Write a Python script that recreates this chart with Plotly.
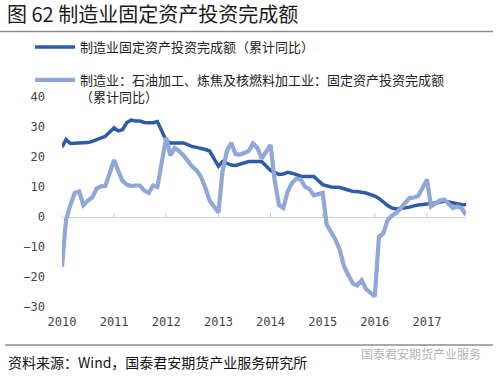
import plotly.graph_objects as go

# ---- data (cumulative YoY, %), months Feb..Dec each year, 2017 ends in Nov ----
years = [2010, 2011, 2012, 2013, 2014, 2015, 2016, 2017]
months = [2, 3, 4, 5, 6, 7, 8, 9, 10, 11, 12]

manu_2010 = [23.3, 25.8, 24.5, 24.6, 24.7, 24.7, 24.8, 25.2, 25.8, 26.3, 26.9]
manu_2011 = [29.7, 28.7, 29.1, 31.5, 32.3, 32.0, 32.0, 31.5, 31.4, 31.4, 31.8]
manu_2012 = [25.5, 24.7, 24.6, 24.7, 24.7, 24.0, 23.5, 23.2, 23.0, 22.5, 22.0]
manu_2013 = [16.9, 18.5, 17.8, 17.3, 17.2, 17.6, 18.2, 18.5, 18.5, 18.6, 18.5]
manu_2014 = [15.5, 15.0, 14.2, 14.3, 14.9, 14.6, 14.0, 13.6, 13.5, 13.5, 13.5]
manu_2015 = [10.8, 10.4, 10.0, 9.9, 9.8, 9.4, 8.9, 8.5, 8.5, 8.3, 8.0]
manu_2016 = [7.0, 6.2, 5.0, 3.8, 3.0, 2.7, 2.8, 3.0, 3.3, 3.7, 4.0]
manu_2017 = [4.3, 4.6, 4.6, 4.8, 5.3, 5.0, 4.6, 4.4, 4.2, 4.1]

oil_2010 = [-16.6, -1.0, 4.0, 8.0, 8.5, 4.0, 5.5, 6.5, 9.5, 10.2, 10.3]
oil_2011 = [19.0, 15.5, 12.0, 10.8, 10.3, 10.5, 10.5, 8.8, 8.0, 10.5, 10.0]
oil_2012 = [26.5, 20.5, 23.0, 22.0, 20.5, 18.5, 16.8, 15.5, 13.5, 9.8, 5.5]
oil_2013 = [1.5, 15.0, 22.0, 24.7, 21.0, 20.8, 21.3, 22.0, 24.5, 23.0, 19.5]
oil_2014 = [24.0, 12.5, 4.0, 3.0, 8.5, 11.3, 12.8, 12.5, 10.0, 9.3, 7.2]
oil_2015 = [8.0, -2.5, -5.0, -7.5, -11.0, -16.5, -19.5, -22.2, -22.8, -21.1, -24.0]
oil_2016 = [-26.5, -6.6, -5.5, -1.0, 0.5, 1.3, 3.0, 4.8, 6.3, 6.5, 7.0]
oil_2017 = [12.5, 3.5, 4.5, 5.5, 5.8, 4.5, 3.0, 3.5, 3.0, 0.7]

manu = manu_2010 + manu_2011 + manu_2012 + manu_2013 + manu_2014 + manu_2015 + manu_2016 + manu_2017
oil = oil_2010 + oil_2011 + oil_2012 + oil_2013 + oil_2014 + oil_2015 + oil_2016 + oil_2017

dates = []
for y in years:
    for m in months:
        if y == 2017 and m > 11:
            continue
        dates.append(f"{y}-{m:02d}-01")

tick_vals = [f"{y}-02-01" for y in years]
tick_text = [str(y) for y in years]
y_ticks = [-30, -20, -10, 0, 10, 20, 30, 40]

name_manu = "制造业固定资产投资完成额（累计同比）"
name_oil = "制造业：石油加工、炼焦及核燃料加工业：固定资产投资完成额<br>（累计同比）"

# ---- layout geometry (pixels) ----
W, H = 499, 377
L, R, T, B = 62, 33, 97, 70
PW, PH = W - L - R, H - T - B


def px(xp):
    return (xp - L) / PW


def py(yp):
    return (H - B - yp) / PH


fig = go.Figure()
fig.add_trace(go.Scatter(
    x=dates, y=manu, mode="lines", name=name_manu, legendgroup="a",
    line=dict(color="#2F5AA6", width=3.5), hoverinfo="skip"))
fig.add_trace(go.Scatter(
    x=dates, y=oil, mode="lines", name=name_oil, legendgroup="b",
    line=dict(color="#8FA7D9", width=4.2), hoverinfo="skip"))

shapes = [
    dict(type="line", xref="paper", yref="paper", x0=px(0), x1=px(493),
         y0=py(31.5), y1=py(31.5), line=dict(color="#8c8c8c", width=1.5)),
    dict(type="line", xref="paper", yref="paper", x0=px(5), x1=px(493),
         y0=py(345), y1=py(345), line=dict(color="#8c8c8c", width=1.5)),
]
for tv in tick_vals:
    shapes.append(dict(type="line", xref="x", yref="y", x0=tv, x1=tv,
                       ysizemode="pixel", yanchor=0, y0=0, y1=4,
                       line=dict(color="#c8c8c8", width=1)))

annotations = [
    dict(text="资料来源：Wind，国泰君安期货产业服务研究所", xref="paper", yref="paper",
         x=px(6), y=py(362), xanchor="left", yanchor="middle", showarrow=False,
         font=dict(size=14, color="#111111", family="Noto Sans CJK SC")),
    dict(text="国泰君安期货产业服务", xref="paper", yref="paper",
         x=px(483), y=py(353), xanchor="right", yanchor="middle", showarrow=False,
         font=dict(size=12, color="#b4b4b4", family="Noto Sans CJK SC")),
]

fig.update_layout(
    width=W, height=H,
    margin=dict(l=L, r=R, t=T, b=B, autoexpand=False),
    paper_bgcolor="white", plot_bgcolor="white",
    font=dict(family="Noto Sans CJK SC", color="#333333"),
    title=dict(text="图 62 制造业固定资产投资完成额", xref="container", yref="container",
               x=7 / W, y=1 - 15 / H, xanchor="left", yanchor="middle",
               font=dict(size=20, color="#1a1a1a", family="Noto Sans CJK SC")),
    showlegend=True,
    legend=dict(xref="container", yref="container", x=30 / W, y=1 - 32 / H,
                xanchor="left", yanchor="top", valign="top",
                font=dict(size=13, color="#222222", family="Noto Sans CJK SC"),
                bgcolor="rgba(0,0,0,0)", tracegroupgap=13, itemwidth=40,
                traceorder="grouped"),
    xaxis=dict(type="date", range=[dates[0], dates[-1]], tickvals=tick_vals,
               ticktext=tick_text, showgrid=False, zeroline=False, showline=False,
               ticks="", ticklabelstandoff=6,
               tickfont=dict(size=12, color="#444444", family="DejaVu Sans Mono")),
    yaxis=dict(range=[-30, 40], tickvals=y_ticks, showgrid=False, zeroline=True,
               zerolinecolor="#d0d0d0", zerolinewidth=1.2, showline=False, ticks="",
               ticklabelstandoff=16,
               tickfont=dict(size=12, color="#444444", family="DejaVu Sans Mono")),
    shapes=shapes, annotations=annotations,
)

fig.write_html("out.html", config={"displayModeBar": False},
               post_script="document.body.style.margin='0';")
